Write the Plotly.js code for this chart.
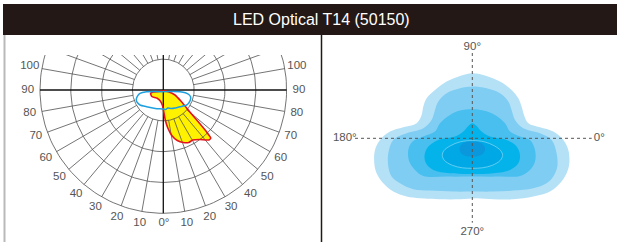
<!DOCTYPE html>
<html><head><meta charset="utf-8">
<script src="https://cdn.plot.ly/plotly-3.0.1.min.js"></script>
<style>html,body{margin:0;padding:0;background:#fff;}#chart{width:617px;height:242px;}</style>
</head><body><div id="chart"></div>
<script>
// ---------- DATA ----------
const chartTitle = 'LED Optical T14 (50150)';

// Left: polar intensity curves. Angle from nadir in degrees (+ = right side), relative radius (outer ring = 100)
const redTheta = [0, 70.2, 66.9, 57.4, 50.2, 47.5, 46.0, 44.7, 42.3, 36.4, 30.5, 25.9, 20.9, 15.5, 10.6, 6.8, 3.8, 1.3, -3.0, -15.3, -39.1, -60.5, -74.6, -78.7, -73.3];
const redR     = [0.6, 4.3, 10.3, 17.3, 28.5, 39.6, 48.5, 54.8, 54.8, 49.9, 47.1, 47.3, 45.6, 42.5, 37.5, 31.0, 24.4, 17.8, 12.6, 9.2, 8.4, 10.7, 10.7, 9.1, 4.2];
const blueTheta = [0, 81.5, 83.8, 82.7, 80.0, 75.6, 69.7, 63.0, 57.2, 45, 33.7, 23.4, 14, 7, 0, -23.4, -45, -57.2, -64.3, -69.7, -76, -81.5, -83.8, -78.7];
const blueR     = [1.4, 8.2, 13.6, 18.0, 21.0, 22.9, 23.4, 23.2, 22.5, 19.2, 17.5, 16.3, 15.0, 15.9, 15.4, 16.3, 19.2, 22.5, 23.4, 23.4, 21.7, 19.1, 13.6, 6.6];
const ringValues = [25, 50, 75, 100];
const angleTicks = [0, 10, 20, 30, 40, 50, 60, 70, 80, 90, 100];

// Right: isolux contours (x, y relative to the cross centre)
const lv1X = [0, 14.3, 27.7, 39.3, 46, 49.3, 51.7, 56, 67.7, 81, 91, 96, 97, 94.3, 87.7, 77.7, 61, 41, 21, 4.3, -12.3, -32.3, -52.3, -65.7, -79, -89, -95.7, -98, -97.3, -92.3, -82.3, -69, -55.7, -50.7, -49, -45.7, -37.3, -25.7, -12.3];
const lv1Y = [65, 62.3, 56.7, 48.3, 40, 31.7, 23.3, 15, 11, 6.7, -1.7, -11.7, -25, -35, -45, -53.3, -58.3, -61, -61, -60, -61, -61, -60, -58.3, -53.3, -45, -35, -25, -11.7, -1.7, 6.7, 11, 15, 23.3, 31.7, 40, 48.3, 56.7, 62.3];
const lv2X = [0, 14.3, 27.7, 36, 39.3, 42.7, 51, 67.7, 79.3, 84.3, 85, 81, 74.3, 61, 41, 21, 0, -19, -42.3, -59, -72.3, -80.7, -84, -84, -79, -65.7, -49, -40.7, -37.3, -34, -25.7, -12.3];
const lv2Y = [51.7, 50, 45, 36.7, 28.3, 18.3, 10, 5, -1.7, -15, -28.3, -38.3, -45, -50, -52.3, -53.3, -53.3, -53.3, -52.3, -51, -45, -38.3, -28.3, -15, -1.7, 5, 10, 18.3, 28.3, 36.7, 45, 50];
const lv3X = [0, 11, 22.7, 32.7, 37.7, 47.7, 57.7, 62.7, 62.7, 57.7, 47.7, 27.7, 0, -25.7, -49, -57.3, -63, -64, -59.7, -49, -37.3, -32.3, -22.3, -12.3];
const lv3Y = [29, 27.7, 23.3, 15, 6.7, 1.7, -1.7, -11.7, -23.3, -31.7, -37.7, -38.3, -38.3, -38.3, -37.7, -31.7, -23.3, -11.7, -3.3, 1.7, 6.7, 15, 23.3, 27.7];
const lv4X = [0, 4.3, 9.3, 17.7, 34.3, 44.3, 47.7, 46, 37.7, 21, 0, -22.3, -39, -46.3, -47.7, -44, -34, -17.3, -9, -4];
const lv4Y = [15, 12.3, 6.7, 1.7, -1.7, -8.3, -16.7, -25, -31.7, -35, -35.7, -35, -31.7, -25, -16.7, -8.3, -1.7, 1.7, 6.7, 12.3];
const lv5X = [0, 12, 22, 28.5, 30.3, 28, 20, 10, 0, -10, -20, -28, -30, -28.5, -22, -12];
const lv5Y = [-2.3, -3.5, -7.5, -12.5, -17, -22, -27, -29.5, -30, -29.5, -27, -22, -17, -12.5, -7.5, -3.5];
const lv6X = [0, 7, 11, 12.8, 11.5, 7, 0, -7, -11.5, -12.8, -11, -7];
const lv6Y = [-3.3, -4, -6.5, -10.5, -14.5, -17.5, -18.3, -17.5, -14.5, -10.5, -6.5, -4];
const crossLabels = ['0°', '90°', '180°', '270°'];

// ---------- STYLE ----------
const FONT = 'Liberation Sans, Arial, Helvetica, sans-serif';
const levelColors = ['#b5e1f7', '#7fcdf3', '#48bfee', '#05b3eb', '#00a9e6', '#0b97db'];
const W = 617, H = 242;
const K = 1.233; // px per radial unit

function toXY(thetaArr, rArr, close) {
  const x = [], y = [];
  for (let i = 0; i < thetaArr.length; i++) {
    const a = thetaArr[i] * Math.PI / 180;
    x.push(rArr[i] * Math.sin(a));
    y.push(-rArr[i] * Math.cos(a));
  }
  if (close) { x.push(x[0]); y.push(y[0]); }
  return {x, y};
}
const closeArr = a => a.concat([a[0]]);

// grid geometry (left)
const spokeX = [], spokeY = [];
for (let d = 0; d < 360; d += 10) {
  if (d % 90 === 0) continue;
  const a = d * Math.PI / 180;
  spokeX.push(25 * Math.sin(a), 100 * Math.sin(a), null);
  spokeY.push(-25 * Math.cos(a), -100 * Math.cos(a), null);
}
const ringX = [], ringY = [];
ringValues.forEach(r => {
  for (let d = 0; d <= 360; d += 2) {
    const a = d * Math.PI / 180;
    ringX.push(r * Math.sin(a)); ringY.push(-r * Math.cos(a));
  }
  ringX.push(null); ringY.push(null);
});
const labX = [], labY = [], labT = [];
angleTicks.forEach(v => {
  const rr = 110;
  if (v === 0) { labX.push(0.5); labY.push(-108); labT.push('0°'); return; }
  [v, -v].forEach(t => {
    const a = t * Math.PI / 180;
    labX.push(rr * Math.sin(a)); labY.push(-rr * Math.cos(a)); labT.push(String(v));
  });
});

const red = toXY(redTheta, redR, true);
const blue = toXY(blueTheta, blueR, true);

const traces = [];
traces.push({type:'scatter', mode:'lines', x:red.x, y:red.y, fill:'toself', fillcolor:'#fff200',
  line:{width:0, shape:'spline', smoothing:0.5}, xaxis:'x', yaxis:'y', hoverinfo:'skip'});
traces.push({type:'scatter', mode:'lines', x:ringX, y:ringY, line:{color:'#505050', width:0.8}, xaxis:'x', yaxis:'y', hoverinfo:'skip'});
traces.push({type:'scatter', mode:'lines', x:spokeX, y:spokeY, line:{color:'#505050', width:0.8}, xaxis:'x', yaxis:'y', hoverinfo:'skip'});
traces.push({type:'scatter', mode:'lines', x:[-100, 100, null, 0, 0], y:[0, 0, null, 100, -100],
  line:{color:'#111', width:1.3}, xaxis:'x', yaxis:'y', hoverinfo:'skip'});
traces.push({type:'scatter', mode:'lines', x:red.x, y:red.y, line:{color:'#e3141d', width:1.6, shape:'spline', smoothing:0.5}, xaxis:'x', yaxis:'y', hoverinfo:'skip'});
traces.push({type:'scatter', mode:'lines', x:blue.x, y:blue.y, line:{color:'#1ea0e0', width:1.5, shape:'spline', smoothing:0.5}, xaxis:'x', yaxis:'y', hoverinfo:'skip'});
traces.push({type:'scatter', mode:'text', x:labX, y:labY, text:labT, textposition:'middle center', cliponaxis:false,
  textfont:{family:FONT, size:11.5, color:'#555'}, xaxis:'x', yaxis:'y', hoverinfo:'skip'});

const lvX = [lv1X, lv2X, lv3X, lv4X, lv5X, lv6X];
const lvY = [lv1Y, lv2Y, lv3Y, lv4Y, lv5Y, lv6Y];
for (let i = 0; i < 6; i++) {
  traces.push({type:'scatter', mode:'lines', x:closeArr(lvX[i]), y:closeArr(lvY[i]), fill:'toself', fillcolor:levelColors[i],
    line:{width: i === 4 ? 0.8 : 0, color: i === 4 ? '#7ad3f2' : levelColors[i], shape:'spline', smoothing:1},
    xaxis:'x2', yaxis:'y2', hoverinfo:'skip'});
}
traces.push({type:'scatter', mode:'lines', x:[-117.3, 119.4, null, 0, 0], y:[0, 0, null, 85.3, -84.4],
  line:{color:'#555', width:1, dash:'dot'}, xaxis:'x2', yaxis:'y2', hoverinfo:'skip'});
traces.push({type:'scatter', mode:'text', x:[127, 0, -127.5, 0], y:[0, 91.5, 0, -93.5], text:crossLabels,
  textposition:'middle center', cliponaxis:false, textfont:{family:FONT, size:11.5, color:'#555'},
  xaxis:'x2', yaxis:'y2', hoverinfo:'skip'});

const ax = (domain, range) => ({domain, range, visible:false, fixedrange:true, showgrid:false, zeroline:false});
const px = v => v / W, py = v => 1 - v / H;
const cx = 163.3, cy = 90;

const layout = {
  width: W, height: H, margin:{l:0, r:0, t:0, b:0}, paper_bgcolor:'#fff', plot_bgcolor:'rgba(0,0,0,0)',
  showlegend:false,
  xaxis: ax([px(cx - 125 * K), px(cx + 125 * K)], [-125, 125]),
  yaxis: ax([py(cy + 120 * K), py(55)], [-120, (cy - 55) / K]),
  xaxis2: ax([px(340), px(605)], [-132.3, 132.7]),
  yaxis2: ax([py(235), py(45)], [-96.7, 93.3]),
  shapes: [
    {type:'rect', xref:'paper', yref:'paper', x0:px(3), x1:1, y0:py(35), y1:py(4), fillcolor:'#231815', line:{width:0}, layer:'above'},
    {type:'line', xref:'paper', yref:'paper', x0:px(321.5), x1:px(321.5), y0:py(35), y1:0, line:{color:'#231815', width:1.5}},
    {type:'line', xref:'paper', yref:'paper', x0:px(4.5), x1:px(4.5), y0:py(35), y1:0, line:{color:'#b9b9b9', width:2}}
  ],
  annotations: [
    {xref:'paper', yref:'paper', x:px(321), y:py(20), text:chartTitle, showarrow:false, xanchor:'center', yanchor:'middle',
      font:{family:FONT, size:16, color:'#ffffff'}}
  ]
};
Plotly.newPlot('chart', traces, layout, {staticPlot:true, displayModeBar:false});
</script>
</body></html>
